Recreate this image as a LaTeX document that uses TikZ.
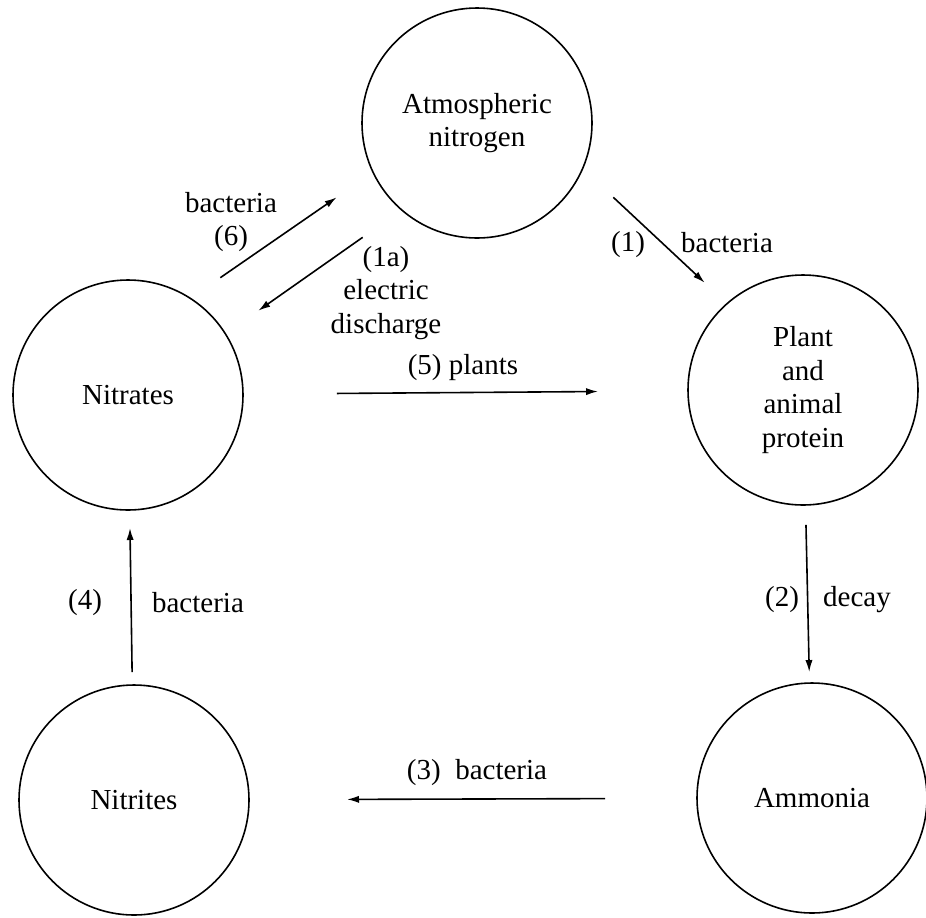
\documentclass[tikz,border=0pt]{standalone}
\usepackage{fontspec}
\setmainfont{Liberation Serif}
\usetikzlibrary{arrows.meta}

\begin{document}
\begin{tikzpicture}[x=0.5pt,y=-0.5pt,font=\fontsize{14.5}{16.8}\selectfont,
    pool/.style={draw,circle,line width=0.8pt,minimum size=115pt,inner sep=0pt,
                 outer sep=0pt,align=center},
    flow/.style={-{Latex[length=6pt,width=3.6pt]},line width=0.8pt},
    tag/.style={inner sep=0pt,align=center}]
  \useasboundingbox (0,0) rectangle (926,917);
  \node[pool] (atm) at (477,123) {Atmospheric\\nitrogen};
  \node[pool] (nitrates) at (128,395) {Nitrates};
  \node[pool] (plant) at (803,390) {Plant\\and\\animal\\protein};
  \node[pool] (nitrites) at (134,800) {Nitrites};
  \node[pool] (ammonia) at (812,798) {Ammonia};
  % the cycle
  \draw[flow] ([shift={(11,-36)}]nitrates.45) -- ([shift={(-59,-7)}]atm.225);
  \draw[flow] ([shift={(-33,33)}]atm.225) -- ([shift={(49,-3)}]nitrates.45);
  \draw[flow] ([shift={(55,-7)}]atm.-45) -- ([shift={(-17,-26)}]plant.135);
  \draw[flow,shorten <=47pt,shorten >=45pt] (nitrates) -- (plant);
  \draw[flow,shorten <=10pt,shorten >=5.5pt] (plant) -- (ammonia);
  \draw[flow,shorten <=46pt,shorten >=49pt] (ammonia) -- (nitrites);
  \draw[flow,shorten <=6.5pt,shorten >=9pt] (nitrites) -- (nitrates);
  \node[tag] (l6) at (231,222) {bacteria\\(6)};
  \node[tag] (l1a) at (386,293) {(1a)\\electric\\discharge};
  \node[tag] (l1n) at (628,245) {(1)};
  \node[tag] (l1b) at (727,243) {bacteria};
  \node[tag] (l5) at (463,368) {(5) plants};
  \node[tag] (l2n) at (782,600) {(2)};
  \node[tag] (l2b) at (857,600) {decay};
  \node[tag] (l3) at (477,773) {(3)\enspace bacteria};
  \node[tag] (l4n) at (85,603) {(4)};
  \node[tag] (l4b) at (198,603) {bacteria};
\end{tikzpicture}
\end{document}
